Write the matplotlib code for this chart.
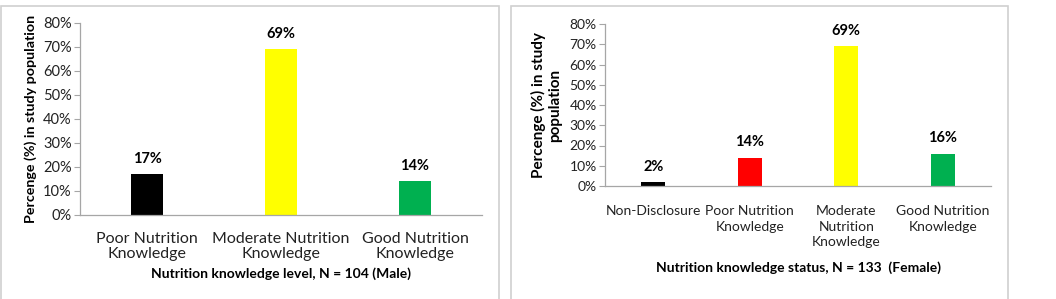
import matplotlib
matplotlib.use("Agg")
import matplotlib.pyplot as plt
from matplotlib.patches import Rectangle
from matplotlib.ticker import FuncFormatter

# male panel
male_cats = ["Poor Nutrition\nKnowledge", "Moderate Nutrition\nKnowledge", "Good Nutrition\nKnowledge"]
male_vals = [17, 69, 14]
male_colors = ["#000000", "#FFFF00", "#00B050"]

# female panel
female_cats = ["Non-Disclosure", "Poor Nutrition\nKnowledge", "Moderate\nNutrition\nKnowledge", "Good Nutrition\nKnowledge"]
female_vals = [2, 14, 69, 16]
female_colors = ["#000000", "#FF0000", "#FFFF00", "#00B050"]

yticks = [0, 10, 20, 30, 40, 50, 60, 70, 80]

plt.rcParams['font.family'] = ['Lato', 'DejaVu Sans']

fig = plt.figure(figsize=(10.56, 2.99), dpi=100)

# panel frames
for x0, x1 in [(1, 499), (511, 1008)]:
    fig.patches.append(Rectangle((x0 / 1056, -0.05), (x1 - x0) / 1056, 1 - 6 / 299 + 0.05,
                                 transform=fig.transFigure, fill=False,
                                 edgecolor="#D0D0D0", linewidth=1.2))


def draw(ax, cats, vals, colors, xlabel, ylabel, cat_size, cat_ls, cat_pad, tick_size, ylab_size, xpad, ylab_pad):
    x = list(range(len(cats)))
    ax.bar(x, vals, width=0.245, color=colors)
    ax.set_xlim(-0.5, len(cats) - 0.5)
    ax.set_ylim(0, 80)
    ax.set_yticks(yticks)
    ax.yaxis.set_major_formatter(FuncFormatter(lambda v, p: "%d%%" % v))
    ax.set_xticks(x)
    ax.set_xticklabels(cats, fontsize=cat_size, color="#222222", linespacing=cat_ls)
    ax.tick_params(axis="x", length=0, pad=cat_pad)
    ax.tick_params(axis="y", length=4, width=0.8, color="#A6A6A6", labelsize=tick_size,
                   labelcolor="#222222", pad=2)
    for s in ["top", "right"]:
        ax.spines[s].set_visible(False)
    for s in ["left", "bottom"]:
        ax.spines[s].set_color("#A6A6A6")
        ax.spines[s].set_linewidth(0.9)
    for xi, v in zip(x, vals):
        ax.annotate("%d%%" % v, (xi, v), xytext=(0, 6), textcoords="offset points",
                    ha="center", va="bottom", fontsize=10.5, fontweight="bold")
    ax.set_xlabel(xlabel, fontsize=10, fontweight="bold", labelpad=xpad)
    ax.set_ylabel(ylabel, fontsize=ylab_size, fontweight="bold", labelpad=ylab_pad, linespacing=1.2)


ax1 = fig.add_axes([80 / 1056, 1 - 215 / 299, (482 - 80) / 1056, (215 - 23) / 299])
draw(ax1, male_cats, male_vals, male_colors,
     "Nutrition knowledge level, N = 104 (Male)",
     "Percenge (%) in study population", 11.5, 1.1, 12, 10.5, 10.3, 5, 4)

ax2 = fig.add_axes([605 / 1056, 1 - 186 / 299, (991 - 605) / 1056, (186 - 24) / 299])
draw(ax2, female_cats, female_vals, female_colors,
     "Nutrition knowledge status, N = 133  (Female)",
     "Percenge (%) in study\npopulation", 10, 1.35, 14, 10, 11, 9, 5)

fig.savefig("out.png", dpi=100)
